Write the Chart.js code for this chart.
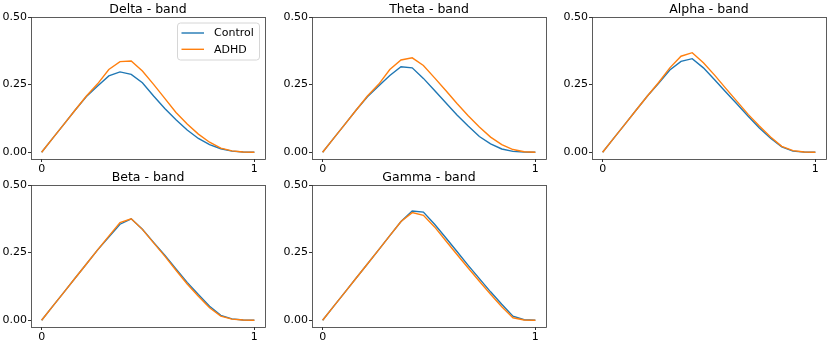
<!DOCTYPE html>
<html>
<head>
<meta charset="utf-8">
<script src="https://cdn.jsdelivr.net/npm/chart.js@4/dist/chart.umd.min.js"></script>
<style>
    body { margin: 0; background: #fff; width: 831px; height: 345px; position: relative; overflow: hidden; }
    .box { position: absolute; }
</style>
</head>
<body>
<div class="box" id="box0"><canvas id="c0"></canvas></div>
<div class="box" id="box1"><canvas id="c1"></canvas></div>
<div class="box" id="box2"><canvas id="c2"></canvas></div>
<div class="box" id="box3"><canvas id="c3"></canvas></div>
<div class="box" id="box4"><canvas id="c4"></canvas></div>
<script>
    // sample positions (20 points between 0 and 1)
    var xValues = [0, 0.0526, 0.1053, 0.1579, 0.2105, 0.2632, 0.3158, 0.3684, 0.4211, 0.4737,
                   0.5263, 0.5789, 0.6316, 0.6842, 0.7368, 0.7895, 0.8421, 0.8947, 0.9474, 1];

    var bandNames = ['Delta - band', 'Theta - band', 'Alpha - band', 'Beta - band', 'Gamma - band'];
    var groupNames = ['Control', 'ADHD'];

    var deltaControl = [0, 0.052, 0.104, 0.156, 0.206, 0.245, 0.282, 0.297, 0.288, 0.257, 0.208, 0.162, 0.120, 0.082, 0.051, 0.028, 0.013, 0.004, 0.001, 0];
    var deltaADHD    = [0, 0.052, 0.104, 0.156, 0.208, 0.253, 0.306, 0.335, 0.337, 0.300, 0.251, 0.199, 0.147, 0.104, 0.067, 0.037, 0.015, 0.005, 0.001, 0];
    var thetaControl = [0, 0.052, 0.104, 0.156, 0.205, 0.245, 0.284, 0.316, 0.312, 0.273, 0.228, 0.183, 0.138, 0.097, 0.058, 0.031, 0.012, 0.003, 0.001, 0];
    var thetaADHD    = [0, 0.052, 0.104, 0.156, 0.208, 0.251, 0.306, 0.341, 0.349, 0.321, 0.275, 0.228, 0.180, 0.135, 0.093, 0.056, 0.028, 0.010, 0.002, 0];
    var alphaControl = [0, 0.052, 0.104, 0.156, 0.208, 0.255, 0.304, 0.336, 0.346, 0.312, 0.268, 0.223, 0.178, 0.133, 0.090, 0.052, 0.020, 0.004, 0.001, 0];
    var alphaADHD    = [0, 0.052, 0.104, 0.156, 0.208, 0.258, 0.312, 0.355, 0.368, 0.331, 0.285, 0.236, 0.188, 0.140, 0.097, 0.056, 0.022, 0.006, 0.001, 0];
    var betaControl  = [0, 0.052, 0.104, 0.156, 0.208, 0.260, 0.308, 0.355, 0.375, 0.336, 0.288, 0.240, 0.190, 0.140, 0.095, 0.052, 0.018, 0.005, 0.001, 0];
    var betaADHD     = [0, 0.052, 0.104, 0.156, 0.208, 0.260, 0.311, 0.361, 0.375, 0.336, 0.286, 0.237, 0.185, 0.134, 0.089, 0.046, 0.015, 0.004, 0.001, 0];
    var gammaControl = [0, 0.052, 0.104, 0.156, 0.208, 0.260, 0.313, 0.365, 0.404, 0.400, 0.355, 0.305, 0.254, 0.203, 0.154, 0.105, 0.059, 0.015, 0.002, 0];
    var gammaADHD    = [0, 0.052, 0.104, 0.156, 0.208, 0.260, 0.313, 0.365, 0.398, 0.388, 0.345, 0.294, 0.243, 0.193, 0.144, 0.096, 0.050, 0.009, 0.001, 0];

    var controlSeries = [deltaControl, thetaControl, alphaControl, betaControl, gammaControl];
    var adhdSeries = [deltaADHD, thetaADHD, alphaADHD, betaADHD, gammaADHD];

    var xTicks = [0, 1];
    var yTicks = [0, 0.25, 0.5];

    var colors = ['#1f77b4', '#ff7f0e'];
    var FONT = 'DejaVu Sans';

    // frame positions of each axes box (left, top) and size
    var frames = [[31, 17], [311.5, 17], [592, 17], [31, 185], [311.5, 185]];
    var frameW = 234.5, frameH = 142;
    // an empty right axis of the same width keeps the title centred over the plot box
    var yAxisW = 31, xAxisH = 16, titleH = 19;

    function toPoints(ys) {
        return ys.map(function (y, i) { return { x: xValues[i], y: y }; });
    }

    // full box around the plot area + optional legend in the upper right
    var framePlugin = {
        id: 'frameBox',
        afterDraw: function (chart, args, opts) {
            var ctx = chart.ctx, a = chart.chartArea;
            ctx.save();
            ctx.strokeStyle = '#333';
            ctx.lineWidth = 0.8;
            ctx.strokeRect(Math.round(a.left) + 0.5, Math.round(a.top) + 0.5,
                           Math.round(a.right - a.left), Math.round(a.bottom - a.top));
            if (opts.legend) {
                var w = 82, h = 37;
                var lx = a.right - 6 - w, ly = a.top + 5.5;
                ctx.fillStyle = 'rgba(255,255,255,0.8)';
                ctx.strokeStyle = '#d6d6d6';
                ctx.lineWidth = 1;
                ctx.beginPath();
                ctx.roundRect(lx + 0.5, ly + 0.5, w, h, 3);
                ctx.fill();
                ctx.stroke();
                ctx.font = '11px "' + FONT + '"';
                ctx.textBaseline = 'middle';
                chart.data.datasets.forEach(function (ds, i) {
                    var yy = ly + 10.5 + i * 16.3;
                    ctx.strokeStyle = ds.borderColor;
                    ctx.lineWidth = 1.4;
                    ctx.beginPath();
                    ctx.moveTo(lx + 4.5, yy);
                    ctx.lineTo(lx + 27, yy);
                    ctx.stroke();
                    ctx.fillStyle = '#000';
                    ctx.fillText(ds.label, lx + 37, yy + 0.5);
                });
            }
            ctx.restore();
        }
    };

    function makeChart(idx) {
        var box = document.getElementById('box' + idx);
        var cv = document.getElementById('c' + idx);
        var fr = frames[idx];
        var w = yAxisW + frameW + yAxisW;
        var h = titleH + frameH + xAxisH;
        box.style.left = (fr[0] - yAxisW) + 'px';
        box.style.top = (fr[1] - titleH) + 'px';
        cv.width = w;
        cv.height = h;

        new Chart(cv.getContext('2d'), {
            type: 'line',
            data: {
                datasets: [{
                    label: groupNames[0],
                    data: toPoints(controlSeries[idx]),
                    borderColor: colors[0],
                    borderWidth: 1.4,
                    pointRadius: 0,
                    order: 1
                }, {
                    label: groupNames[1],
                    data: toPoints(adhdSeries[idx]),
                    borderColor: colors[1],
                    borderWidth: 1.4,
                    pointRadius: 0,
                    order: 0
                }]
            },
            plugins: [framePlugin],
            options: {
                responsive: false,
                animation: false,
                layout: { padding: 0 },
                plugins: {
                    legend: { display: false },
                    tooltip: { enabled: false },
                    title: {
                        display: true,
                        text: bandNames[idx],
                        color: '#000',
                        font: { family: FONT, size: 12.5, weight: 'normal', lineHeight: 1.2 },
                        padding: { top: 4, bottom: 0 }
                    },
                    frameBox: { legend: idx === 0 }
                },
                scales: {
                    x: {
                        type: 'linear',
                        min: -0.05,
                        max: 1.05,
                        afterBuildTicks: function (s) { s.ticks = xTicks.map(function (v) { return { value: v }; }); },
                        afterFit: function (s) { s.height = xAxisH; },
                        grid: { drawOnChartArea: false, tickLength: 3, color: '#000', lineWidth: 0.8 },
                        border: { display: false },
                        ticks: { color: '#000', padding: 1, maxRotation: 0, font: { family: FONT, size: 11 } }
                    },
                    y: {
                        min: -0.025,
                        max: 0.5,
                        afterBuildTicks: function (s) { s.ticks = yTicks.map(function (v) { return { value: v }; }); },
                        afterFit: function (s) { s.width = yAxisW; },
                        grid: { drawOnChartArea: false, tickLength: 3, color: '#000', lineWidth: 0.8 },
                        border: { display: false },
                        ticks: {
                            color: '#000', padding: 1,
                            font: { family: FONT, size: 11 },
                            callback: function (v) { return v.toFixed(2); }
                        }
                    },
                    yPad: {
                        position: 'right',
                        min: 0,
                        max: 1,
                        afterFit: function (s) { s.width = yAxisW; },
                        grid: { display: false },
                        border: { display: false },
                        ticks: { display: false }
                    }
                }
            }
        });
    }

    for (var i = 0; i < bandNames.length; i++) makeChart(i);
</script>
</body>
</html>
